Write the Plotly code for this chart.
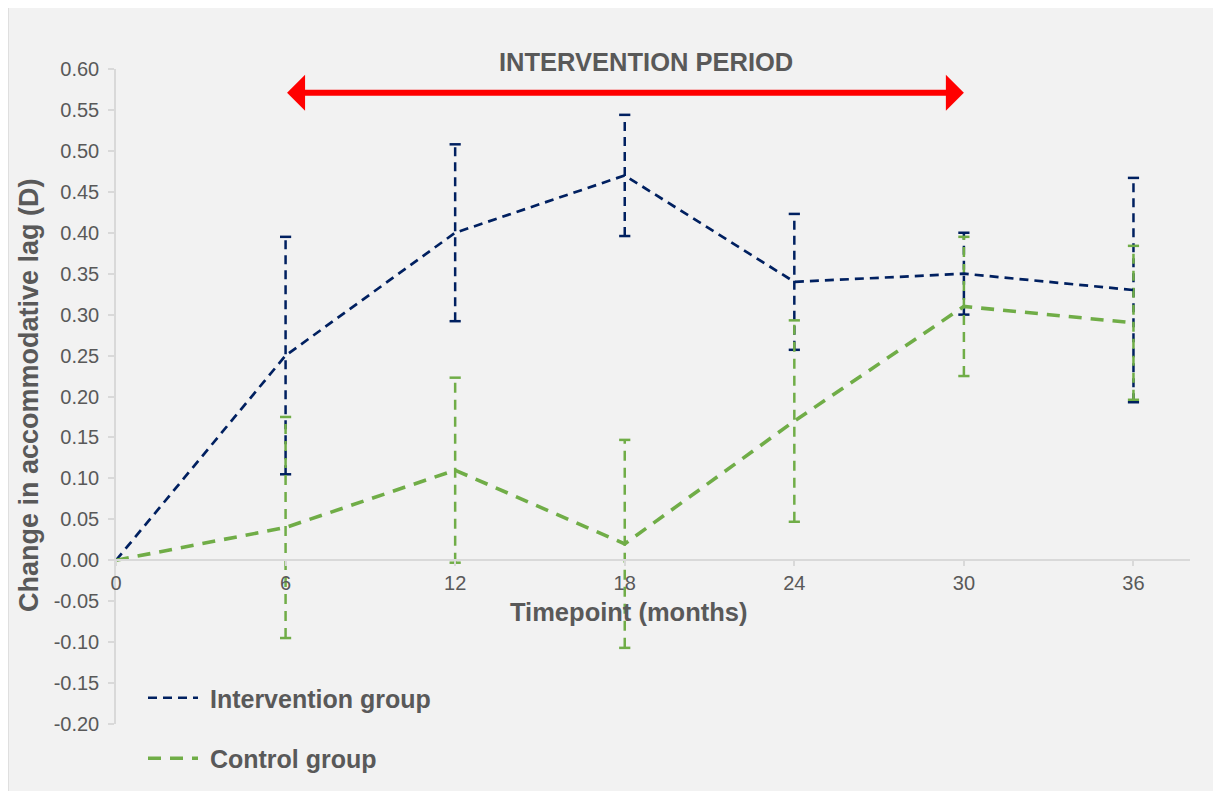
import plotly.graph_objects as go

# ---- data ----
timepoints = [0, 6, 12, 18, 24, 30, 36]
intervention_mean = [0.00, 0.25, 0.40, 0.47, 0.34, 0.35, 0.33]
intervention_err = [0.0, 0.145, 0.108, 0.074, 0.083, 0.050, 0.137]
control_mean = [0.00, 0.04, 0.11, 0.02, 0.17, 0.31, 0.29]
control_err = [0.0, 0.135, 0.113, 0.127, 0.123, 0.085, 0.094]
y_tick_values = [-0.20, -0.15, -0.10, -0.05, 0.00, 0.05, 0.10, 0.15, 0.20,
                 0.25, 0.30, 0.35, 0.40, 0.45, 0.50, 0.55, 0.60]
y_tick_labels = ["-0.20", "-0.15", "-0.10", "-0.05", "0.00", "0.05", "0.10", "0.15", "0.20",
                 "0.25", "0.30", "0.35", "0.40", "0.45", "0.50", "0.55", "0.60"]
x_tick_labels = ["0", "6", "12", "18", "24", "30", "36"]
series_names = ["Intervention group", "Control group"]
intervention_period = [6, 30]
arrow_level = 0.571

NAVY = "#002060"
GREEN = "#70AD47"
GRAY_TXT = "#595959"
AXIS_GRAY = "#D9D9D9"
FONT = "Liberation Sans, Arial, sans-serif"

Y_RANGE = [-0.2, 0.6]
X_RANGE = [0, 38]


def err_segments(xs, means, errs):
    bx, by, cx, cy = [], [], [], []
    for x, m, e in zip(xs, means, errs):
        if e <= 0:
            continue
        bx += [x, x, None]
        by += [m - e, m + e, None]
        cx += [x, x]
        cy += [m - e, m + e]
    return bx, by, cx, cy


fig = go.Figure()

for means, errs, col, dash, w in [
    (intervention_mean, intervention_err, NAVY, "9px,6px", 2.5),
    (control_mean, control_err, GREEN, "10px,7px", 2.5),
]:
    bx, by, cx, cy = err_segments(timepoints, means, errs)
    fig.add_trace(go.Scatter(x=bx, y=by, mode="lines", showlegend=False,
                             line=dict(color=col, width=w, dash=dash),
                             hoverinfo="skip"))
    fig.add_trace(go.Scatter(x=cx, y=cy, mode="markers", showlegend=False,
                             marker=dict(symbol="line-ew", size=8,
                                         line=dict(color=col, width=2.5)),
                             hoverinfo="skip"))

fig.add_trace(go.Scatter(x=timepoints, y=intervention_mean, mode="lines",
                         name="\u00a0" + series_names[0], legendgroup="a",
                         line=dict(color=NAVY, width=2.7, dash="9px,6px")))
fig.add_trace(go.Scatter(x=timepoints, y=control_mean, mode="lines",
                         name="\u00a0" + series_names[1], legendgroup="b",
                         line=dict(color=GREEN, width=3.6, dash="13px,9px")))

# page geometry (the page body has an 8px margin around the figure)
OFF = 8
W, H = 1221 - OFF, 791 - OFF
PL, PR, PT, PB = 116, 1190, 69, 724          # plot area in page px
L, R, T, B = PL - OFF, W - (PR - OFF), PT - OFF, H - (PB - OFF)
pw, ph = PR - PL, PB - PT


def px_x(p):
    return (p - PL) / pw


def px_y(p):
    return (PB - p) / ph


def cx_(p):
    return (p - OFF) / W


def cy_(p):
    return 1 - (p - OFF) / H


zero_pos = (0 - Y_RANGE[0]) / (Y_RANGE[1] - Y_RANGE[0])

fig.update_layout(
    width=W, height=H, autosize=False,
    margin=dict(l=L, r=R, t=T, b=B, autoexpand=False),
    paper_bgcolor="white",
    plot_bgcolor="rgba(0,0,0,0)",
    font=dict(family=FONT, color=GRAY_TXT),
    xaxis=dict(range=X_RANGE, anchor="free", position=zero_pos,
               tickvals=timepoints, ticktext=x_tick_labels,
               showline=True, linecolor=AXIS_GRAY, linewidth=2,
               ticks="outside", ticklen=5, tickcolor=AXIS_GRAY, tickwidth=1.5,
               showgrid=False, zeroline=False,
               tickfont=dict(size=20, color=GRAY_TXT, family=FONT)),
    yaxis=dict(range=Y_RANGE, tickvals=y_tick_values, ticktext=y_tick_labels,
               showline=True, linecolor=AXIS_GRAY, linewidth=1.5,
               ticks="outside", ticklen=6, tickcolor=AXIS_GRAY, tickwidth=1.5,
               ticklabelstandoff=5,
               showgrid=False, zeroline=False,
               tickfont=dict(size=20, color=GRAY_TXT, family=FONT)),
    showlegend=True,
    legend=dict(xref="container", yref="container",
                x=cx_(143), y=cy_(675), xanchor="left", yanchor="top",
                bgcolor="rgba(0,0,0,0)", traceorder="grouped",
                tracegroupgap=25, itemwidth=50,
                font=dict(size=25, color=GRAY_TXT, family=FONT, weight="bold")),
    shapes=[dict(type="rect", xref="paper", yref="paper",
                 x0=px_x(8), x1=px_x(1215), y0=px_y(800), y1=px_y(6),
                 line=dict(color=AXIS_GRAY, width=1.5), fillcolor="#F2F2F2",
                 layer="below")],
    annotations=[
        dict(xref="paper", yref="paper", x=px_x(646), y=px_y(62),
             text="INTERVENTION PERIOD", showarrow=False,
             font=dict(size=25.5, color=GRAY_TXT, family=FONT, weight="bold"),
             xanchor="center", yanchor="middle"),
        dict(xref="x", yref="y", axref="x", ayref="y",
             x=intervention_period[1], y=arrow_level,
             ax=intervention_period[0], ay=arrow_level,
             text="", showarrow=True, arrowside="end+start",
             arrowhead=1, startarrowhead=1, arrowsize=1.0, startarrowsize=1.0,
             arrowwidth=6, arrowcolor="#FF0000", standoff=0, startstandoff=0),
        dict(xref="paper", yref="paper", x=px_x(29), y=px_y(395),
             text="Change in accommodative lag (D)", showarrow=False,
             textangle=-90,
             font=dict(size=27, color=GRAY_TXT, family=FONT, weight="bold"),
             xanchor="center", yanchor="middle"),
        dict(xref="paper", yref="paper", x=px_x(629), y=px_y(612),
             text="Timepoint (months)", showarrow=False,
             font=dict(size=25.5, color=GRAY_TXT, family=FONT, weight="bold"),
             xanchor="center", yanchor="middle"),
    ],
)

fig.write_html("out.html")
